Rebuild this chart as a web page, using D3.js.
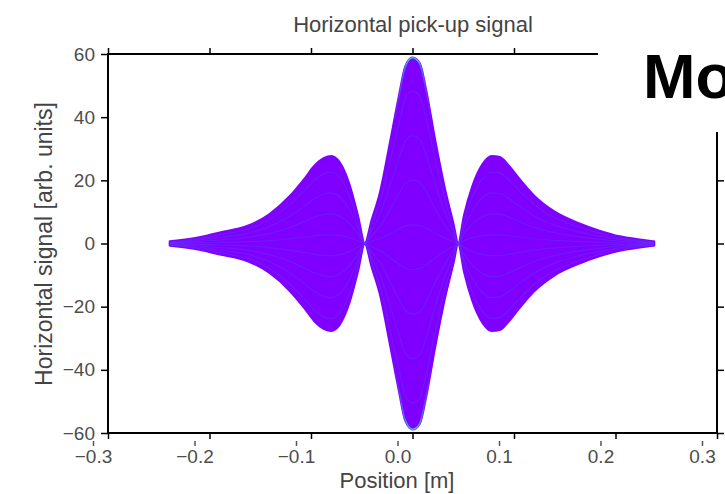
<!DOCTYPE html>
<html>
<head>
<meta charset="utf-8">
<script src="https://cdn.jsdelivr.net/npm/d3@7"></script>
<style>
  body { margin: 0; background: #fff; }
  text { font-family: "Liberation Sans", Arial, sans-serif; }
</style>
</head>
<body>
<svg id="chart"></svg>
<script>
// upper envelope of the pick-up traces (lower one is the mirror)
var positions = [-0.239, -0.210, -0.193, -0.161, -0.141, -0.121, -0.106, -0.097, -0.087, -0.080,
                 -0.072, -0.062, -0.054, -0.047, -0.040, -0.032, -0.022, -0.013, -0.007, 0.000,
                  0.007, 0.013, 0.022, 0.032, 0.040, 0.045, 0.051, 0.059, 0.069, 0.078,
                  0.086, 0.095, 0.105, 0.120, 0.140, 0.165, 0.184, 0.204, 0.224, 0.238];
var envelope  = [0.6, 1.9, 3.2, 5.7, 9.2, 14.9, 20.6, 24.4, 27.0, 27.6,
                 25.7, 18.4, 8.9, 0.0, 7.5, 16.0, 32.0, 47.0, 56.0, 58.8,
                 57.0, 49.0, 33.0, 17.0, 6.5, 0.0, 9.0, 18.0, 25.0, 27.6,
                 27.3, 24.5, 20.5, 15.0, 10.0, 6.2, 4.0, 2.2, 1.2, 0.6];
// inner traces drawn as fractions of the envelope (lighter streaks)
var traceScales = [0.82, 0.58, 0.34, 0.1, -0.14, -0.38, -0.62, -0.86];
var xTicks = [-0.3, -0.2, -0.1, 0.0, 0.1, 0.2, 0.3];
var yTicks = [-60, -40, -20, 0, 20, 40, 60];

var width = 725, height = 494;
var svg = d3.select("#chart").attr("width", width).attr("height", height);

var x = d3.scaleLinear().domain([-0.3, 0.3]).range([108, 717]);
// shadow copy of the tick labels sits 15px to the left
var xg = d3.scaleLinear().domain([-0.3, 0.3]).range([93, 702]);
var y = d3.scaleLinear().domain([-60, 60]).range([433, 54]);

var pts = positions.map(function (p, i) { return { x: p, v: envelope[i] }; });

var defs = svg.append("defs");
var grad = defs.append("linearGradient")
    .attr("id", "edge")
    .attr("gradientUnits", "userSpaceOnUse")
    .attr("x1", 0).attr("x2", 0).attr("y1", y(60)).attr("y2", y(-60));
[[0, "#3fe0c0", 1], [0.04, "#3f8cff", 0.8], [0.2, "#5a40ff", 0], [0.8, "#5a40ff", 0],
 [0.96, "#3f8cff", 0.8], [1, "#3fe0c0", 1]].forEach(function (s) {
    grad.append("stop").attr("offset", s[0]).attr("stop-color", s[1]).attr("stop-opacity", s[2]);
});

// filled band between upper and lower envelope
var area = d3.area()
    .x(function (d) { return x(d.x); })
    .y0(function (d) { return y(-d.v); })
    .y1(function (d) { return y(d.v); })
    .curve(d3.curveMonotoneX);

svg.append("path")
    .datum(pts)
    .attr("d", area)
    .attr("fill", "#7f00ff")
    .attr("stroke", "#7f00ff")
    .attr("stroke-width", 2.5)
    .attr("stroke-linejoin", "round");

var line = d3.line()
    .x(function (d) { return x(d.x); })
    .curve(d3.curveMonotoneX);

svg.append("g").selectAll("path")
    .data(traceScales)
    .enter().append("path")
    .attr("d", function (s) { return line.y(function (d) { return y(d.v * s); })(pts); })
    .attr("fill", "none")
    .attr("stroke", "#4a5cff")
    .attr("stroke-opacity", 0.25)
    .attr("stroke-width", 1.2);

// outer edges pick up the later colormap colours near the peaks
[1, -1].forEach(function (sgn) {
    svg.append("path")
        .datum(pts)
        .attr("d", line.y(function (d) { return y(d.v * sgn); }))
        .attr("fill", "none")
        .attr("stroke", "url(#edge)")
        .attr("stroke-width", 1.4);
});

// frame
svg.append("rect")
    .attr("x", x(-0.3)).attr("y", y(60))
    .attr("width", x(0.3) - x(-0.3)).attr("height", y(-60) - y(60))
    .attr("fill", "none").attr("stroke", "#000").attr("stroke-width", 2);

function clean(g) {
    g.select(".domain").remove();
    g.selectAll("line").attr("stroke", "#000").attr("stroke-width", 1.5);
}

svg.append("g").attr("transform", "translate(0," + y(-60) + ")")
    .call(d3.axisBottom(x).tickValues(xTicks).tickSize(6).tickFormat(""))
    .call(clean);
svg.append("g").attr("transform", "translate(0," + y(60) + ")")
    .call(d3.axisTop(x).tickValues(xTicks).tickSize(6).tickFormat(""))
    .call(clean);
svg.append("g").attr("transform", "translate(" + x(0.3) + ",0)")
    .call(d3.axisRight(y).tickValues(yTicks).tickSize(7).tickFormat(""))
    .call(clean);

var left = svg.append("g").attr("transform", "translate(" + x(-0.3) + ",0)")
    .call(d3.axisLeft(y).tickValues(yTicks).tickSize(7).tickPadding(6).tickFormat(d3.format("d")))
    .call(clean);
left.selectAll("text")
    .attr("fill", "#4d4d4d")
    .style("font-size", "19px")
    .style("font-family", "'Liberation Sans', Arial, sans-serif");

var gx = svg.append("g").attr("transform", "translate(0,441)")
    .call(d3.axisBottom(xg).tickValues(xTicks).tickSize(5).tickPadding(4).tickFormat(d3.format(".1f")));
gx.select(".domain").remove();
gx.selectAll("line").attr("stroke", "#555").attr("stroke-width", 1.5);
gx.selectAll("text")
    .attr("fill", "#4d4d4d")
    .style("font-size", "19px")
    .style("font-family", "'Liberation Sans', Arial, sans-serif");

// titles
svg.append("text")
    .attr("x", 413).attr("y", 32)
    .attr("text-anchor", "middle")
    .attr("fill", "#444")
    .style("font-size", "22px")
    .text("Horizontal pick-up signal");

svg.append("text")
    .attr("x", 397).attr("y", 488)
    .attr("text-anchor", "middle")
    .attr("fill", "#444")
    .style("font-size", "22px")
    .text("Position [m]");

svg.append("text")
    .attr("transform", "translate(52,244) rotate(-90)")
    .attr("text-anchor", "middle")
    .attr("fill", "#444")
    .style("font-size", "23px")
    .text("Horizontal signal [arb. units]");

// overlapping slide panel on the right
svg.append("rect")
    .attr("x", 598).attr("y", 0)
    .attr("width", width - 598).attr("height", 132)
    .attr("fill", "#fff");

svg.append("text")
    .attr("x", 643).attr("y", 98)
    .attr("fill", "#000")
    .style("font-size", "63px")
    .style("font-weight", "bold")
    .text("Mo");
</script>
</body>
</html>
